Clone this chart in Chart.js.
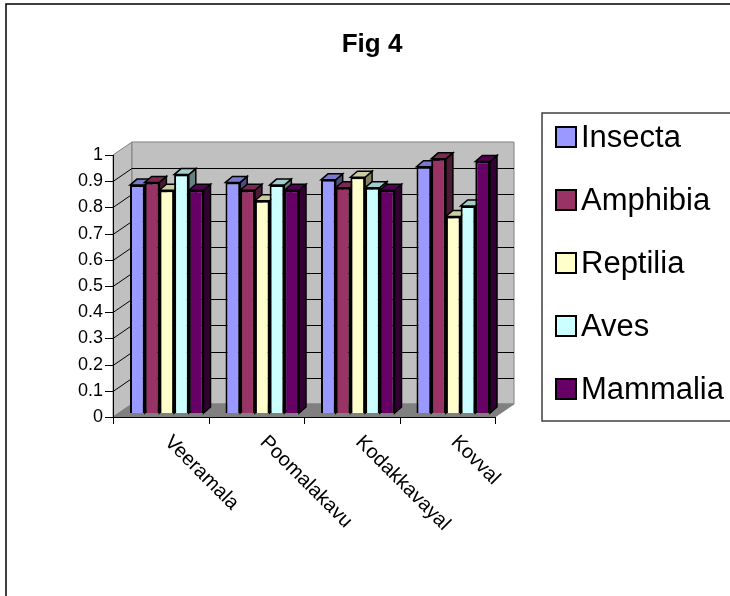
<!DOCTYPE html>
<html>
<head>
<meta charset="utf-8">
<title>Fig 4</title>
<script src="https://cdn.jsdelivr.net/npm/chart.js@4.4.1/dist/chart.umd.min.js"></script>
<style>
  html, body { margin: 0; padding: 0; background: #fff; }
  canvas { display: block; }
</style>
</head>
<body>
<canvas id="myChart" width="730" height="596"></canvas>
<script>
'use strict';

// sites on the x axis
let categories = ['Veeramala', 'Poomalakavu', 'Kodakkavayal', 'Kovval'];

// values, one array per group
let insecta = [0.87, 0.88, 0.89, 0.94];
let amphibia = [0.88, 0.85, 0.86, 0.97];
let reptilia = [0.85, 0.81, 0.90, 0.75];
let aves = [0.91, 0.87, 0.86, 0.79];
let mammalia = [0.85, 0.85, 0.85, 0.96];

let seriesNames = ['Insecta', 'Amphibia', 'Reptilia', 'Aves', 'Mammalia'];
let seriesColors = ['#9999ff', '#993366', '#ffffcc', '#ccffff', '#660066'];

let titleText = 'Fig 4';

const FONT = '"Liberation Sans", Arial, sans-serif';

// 3d look: bar plane sits a bit behind the front axis
const planeDx = 6;
const planeDy = -4;
const wallDx = 19;
const wallDy = -13;
const barDx = 7;
const barDy = -6;

function shade(hex, f) {
  let r = parseInt(hex.substr(1, 2), 16);
  let g = parseInt(hex.substr(3, 2), 16);
  let b = parseInt(hex.substr(5, 2), 16);
  return 'rgb(' + Math.round(r * f) + ',' + Math.round(g * f) + ',' + Math.round(b * f) + ')';
}

function poly(ctx, pts, fill, stroke, lw) {
  ctx.beginPath();
  ctx.moveTo(pts[0][0], pts[0][1]);
  for (let i = 1; i < pts.length; i++) {
    ctx.lineTo(pts[i][0], pts[i][1]);
  }
  ctx.closePath();
  if (fill) {
    ctx.fillStyle = fill;
    ctx.fill();
  }
  if (stroke) {
    ctx.strokeStyle = stroke;
    ctx.lineWidth = lw || 1;
    ctx.stroke();
  }
}

const boxPlugin = {
  id: 'box3d',
  beforeDatasetsDraw(chart) {
    const ctx = chart.ctx;
    const ys = chart.scales.y;
    const area = chart.chartArea;
    const fx0 = area.left - planeDx;
    const fx1 = area.right - planeDx;
    const fy = (v) => ys.getPixelForValue(v) - planeDy;
    const ticks = ys.ticks.map(t => t.value);

    ctx.save();

    // side wall
    poly(ctx, [[fx0, fy(0)], [fx0, fy(1)], [fx0 + wallDx, fy(1) + wallDy], [fx0 + wallDx, fy(0) + wallDy]], '#c0c0c0', '#808080', 1);
    // back wall
    poly(ctx, [[fx0 + wallDx, fy(1) + wallDy], [fx1 + wallDx, fy(1) + wallDy], [fx1 + wallDx, fy(0) + wallDy], [fx0 + wallDx, fy(0) + wallDy]], '#c0c0c0', '#808080', 1);
    // floor
    poly(ctx, [[fx0, fy(0)], [fx1, fy(0)], [fx1 + wallDx, fy(0) + wallDy], [fx0 + wallDx, fy(0) + wallDy]], '#808080', '#808080', 1);

    // grid lines on walls
    ctx.strokeStyle = '#000';
    ctx.lineWidth = 1;
    for (let i = 0; i < ticks.length; i++) {
      let v = ticks[i];
      if (v === 0 || v === 1) continue;
      let yy = Math.round(fy(v)) + 0.5;
      ctx.beginPath();
      ctx.moveTo(fx0, yy);
      ctx.lineTo(fx0 + wallDx, yy + wallDy);
      ctx.lineTo(fx1 + wallDx, yy + wallDy);
      ctx.stroke();
    }

    // front axes with tick marks
    ctx.beginPath();
    ctx.moveTo(fx0 + 0.5, fy(1));
    ctx.lineTo(fx0 + 0.5, fy(0) + 0.5);
    ctx.lineTo(fx1, fy(0) + 0.5);
    for (let i = 0; i < ticks.length; i++) {
      let yy = Math.round(fy(ticks[i])) + 0.5;
      ctx.moveTo(fx0 - 8, yy);
      ctx.lineTo(fx0, yy);
    }
    let step = (fx1 - fx0) / categories.length;
    for (let i = 0; i <= categories.length; i++) {
      let xx = Math.round(fx0 + step * i) + 0.5;
      ctx.moveTo(xx, fy(0));
      ctx.lineTo(xx, fy(0) + 7);
    }
    ctx.stroke();

    // depth faces of the bars, left to right
    for (let c = 0; c < categories.length; c++) {
      for (let d = 0; d < chart.data.datasets.length; d++) {
        let bar = chart.getDatasetMeta(d).data[c];
        let l = bar.x - bar.width / 2;
        let r = bar.x + bar.width / 2;
        let col = seriesColors[d];
        poly(ctx, [[r, bar.y], [r + barDx, bar.y + barDy], [r + barDx, bar.base + barDy], [r, bar.base]], shade(col, 0.5), '#000', 1.5);
        poly(ctx, [[l, bar.y], [l + barDx, bar.y + barDy], [r + barDx, bar.y + barDy], [r, bar.y]], shade(col, 0.8), '#000', 1.5);
      }
    }

    ctx.restore();
  },
  afterDraw(chart) {
    const ctx = chart.ctx;
    const xs = chart.scales.x;
    const ys = chart.scales.y;
    ctx.save();

    // outer frame
    ctx.strokeStyle = '#000';
    ctx.lineWidth = 1.5;
    ctx.strokeRect(6, 4, 800, 700);

    // title
    ctx.fillStyle = '#000';
    ctx.font = 'bold 26px ' + FONT;
    ctx.textAlign = 'center';
    ctx.textBaseline = 'alphabetic';
    ctx.fillText(titleText, 372, 52);

    // category labels, turned 45 degrees clockwise
    ctx.font = '20px ' + FONT;
    ctx.textAlign = 'left';
    ctx.textBaseline = 'top';
    for (let i = 0; i < categories.length; i++) {
      let px = xs.getPixelForValue(i) - planeDx + 14;
      let py = ys.getPixelForValue(0) - planeDy + 15;
      ctx.save();
      ctx.translate(px, py);
      ctx.rotate(Math.PI / 4);
      ctx.fillText(categories[i], 0, 0);
      ctx.restore();
    }

    // legend
    ctx.strokeStyle = '#404040';
    ctx.lineWidth = 1.5;
    ctx.strokeRect(542, 113, 300, 308);
    ctx.font = '31px ' + FONT;
    ctx.textBaseline = 'middle';
    for (let i = 0; i < seriesNames.length; i++) {
      let cy = 137 + i * 63;
      ctx.fillStyle = seriesColors[i];
      ctx.fillRect(556, cy - 10, 20, 20);
      ctx.strokeStyle = '#000';
      ctx.lineWidth = 2;
      ctx.strokeRect(556, cy - 10, 20, 20);
      ctx.fillStyle = '#000';
      ctx.fillText(seriesNames[i], 581, cy + 1);
    }

    ctx.restore();
  }
};

let datasets = [insecta, amphibia, reptilia, aves, mammalia].map((values, i) => ({
  label: seriesNames[i],
  data: values,
  backgroundColor: seriesColors[i],
  borderColor: '#000',
  borderWidth: 2,
  categoryPercentage: 0.77,
  barPercentage: 1.0
}));

let ctx = document.getElementById('myChart').getContext('2d');
let myChart = new Chart(ctx, {
  type: 'bar',
  data: {
    labels: categories,
    datasets: datasets
  },
  options: {
    responsive: false,
    animation: false,
    layout: {
      padding: { left: 0, top: 151, right: 229, bottom: 183 }
    },
    plugins: {
      legend: { display: false },
      title: { display: false },
      tooltip: { enabled: false }
    },
    scales: {
      x: {
        display: false
      },
      y: {
        min: 0,
        max: 1,
        afterFit: (scale) => { scale.width = 119; },
        grid: { display: false, drawTicks: false },
        border: { display: false },
        ticks: {
          stepSize: 0.1,
          padding: 16,
          labelOffset: 4,
          color: '#000',
          font: { family: FONT, size: 18 },
          callback: (v) => String(+Number(v).toFixed(1))
        }
      }
    }
  },
  plugins: [boxPlugin]
});
</script>
</body>
</html>
